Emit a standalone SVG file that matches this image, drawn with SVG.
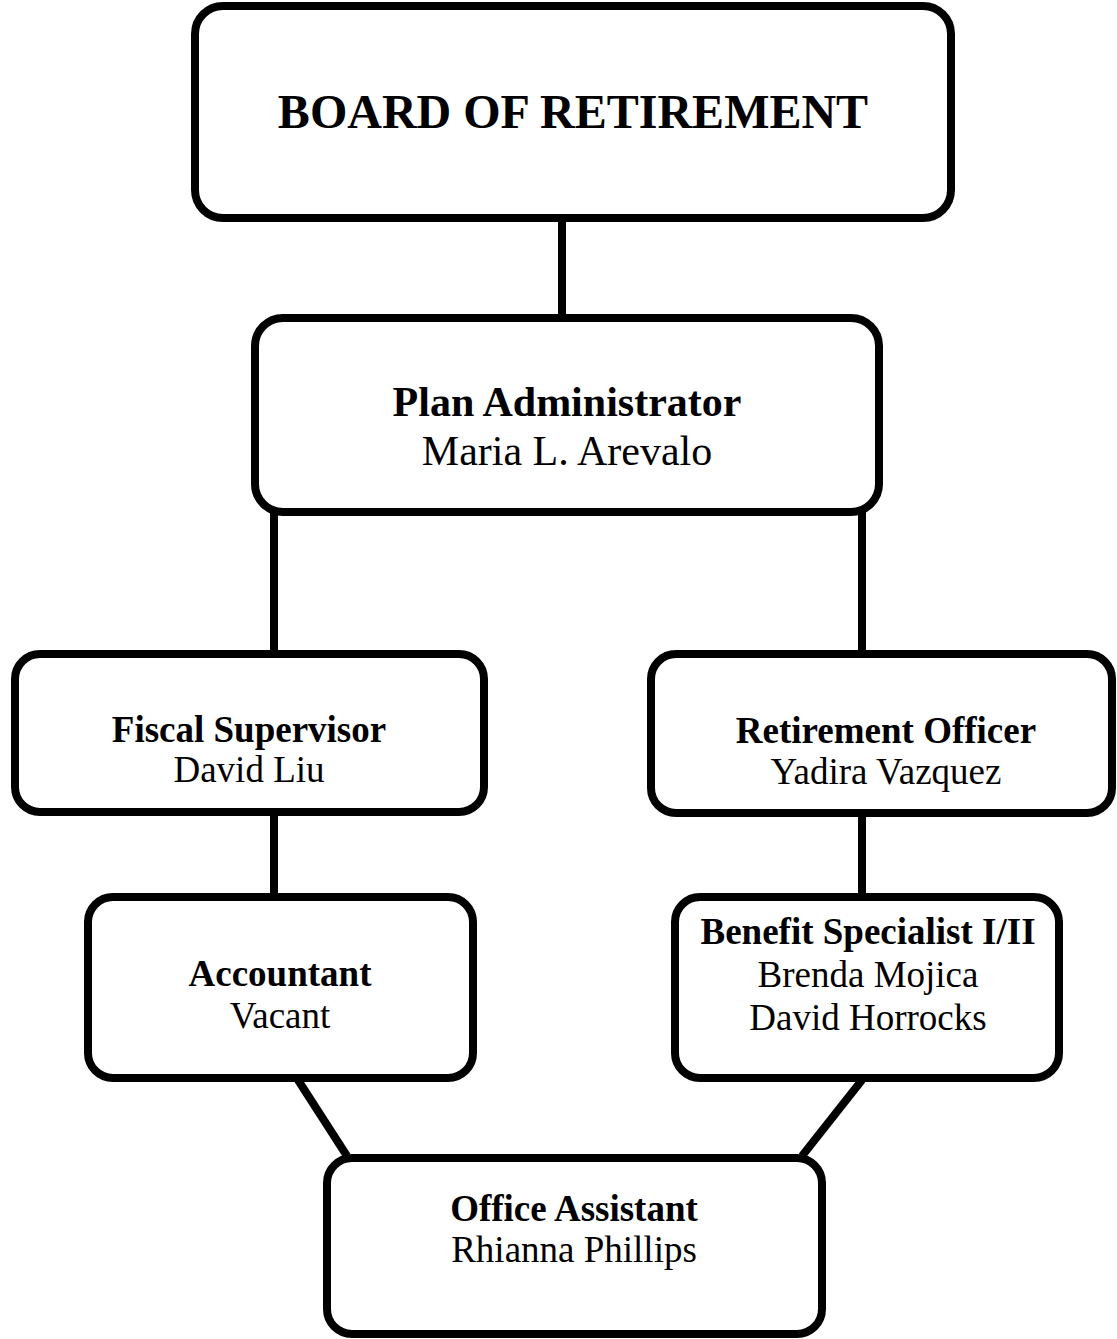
<svg xmlns="http://www.w3.org/2000/svg" width="1117" height="1339" viewBox="0 0 1117 1339">
<style>
.box{fill:#fff;stroke:#000;stroke-width:8}
.ln{stroke:#000;stroke-width:8;fill:none}
text{font-family:"Liberation Serif","Times New Roman",serif;fill:#000;text-anchor:middle}
.b{font-weight:bold}
.t1{font-size:48px}
.t2{font-size:42px}
.t3{font-size:37px}
</style>
<rect width="1117" height="1339" fill="#fff"/>
<g id="connectors">
<line class="ln" x1="562" y1="218" x2="562" y2="318"/>
<line class="ln" x1="274" y1="512" x2="274" y2="654"/>
<line class="ln" x1="862" y1="512" x2="862" y2="654"/>
<line class="ln" x1="274" y1="812" x2="274" y2="897"/>
<line class="ln" x1="862" y1="813" x2="862" y2="897"/>
<line class="ln" x1="298" y1="1080" x2="347" y2="1156"/>
<line class="ln" x1="862" y1="1080" x2="802" y2="1156"/>
</g>
<g id="board">
<rect class="box" x="195" y="6" width="756" height="212" rx="28"/>
<text class="b t1" x="573" y="128">BOARD OF RETIREMENT</text>
</g>
<g id="plan-admin">
<rect class="box" x="255" y="318" width="624" height="194" rx="28"/>
<text class="b t2" x="567" y="416">Plan Administrator</text>
<text class="t2" x="567" y="465">Maria L. Arevalo</text>
</g>
<g id="fiscal">
<rect class="box" x="15" y="654" width="469" height="158" rx="25"/>
<text class="b t3" x="249" y="742">Fiscal Supervisor</text>
<text class="t3" x="249" y="782">David Liu</text>
</g>
<g id="retirement-officer">
<rect class="box" x="651" y="654" width="461" height="159" rx="25"/>
<text class="b t3" x="886" y="743">Retirement Officer</text>
<text class="t3" x="886" y="784">Yadira Vazquez</text>
</g>
<g id="accountant">
<rect class="box" x="88" y="897" width="385" height="181" rx="25"/>
<text class="b t3" x="280" y="986">Accountant</text>
<text class="t3" x="280" y="1028">Vacant</text>
</g>
<g id="benefit">
<rect class="box" x="675" y="897" width="384" height="181" rx="25"/>
<text class="b t3" x="868" y="944">Benefit Specialist I/II</text>
<text class="t3" x="868" y="987">Brenda Mojica</text>
<text class="t3" x="868" y="1030">David Horrocks</text>
</g>
<g id="office-assistant">
<rect class="box" x="327" y="1158" width="495" height="176" rx="25"/>
<text class="b t3" x="574" y="1221">Office Assistant</text>
<text class="t3" x="574" y="1262">Rhianna Phillips</text>
</g>
</svg>
